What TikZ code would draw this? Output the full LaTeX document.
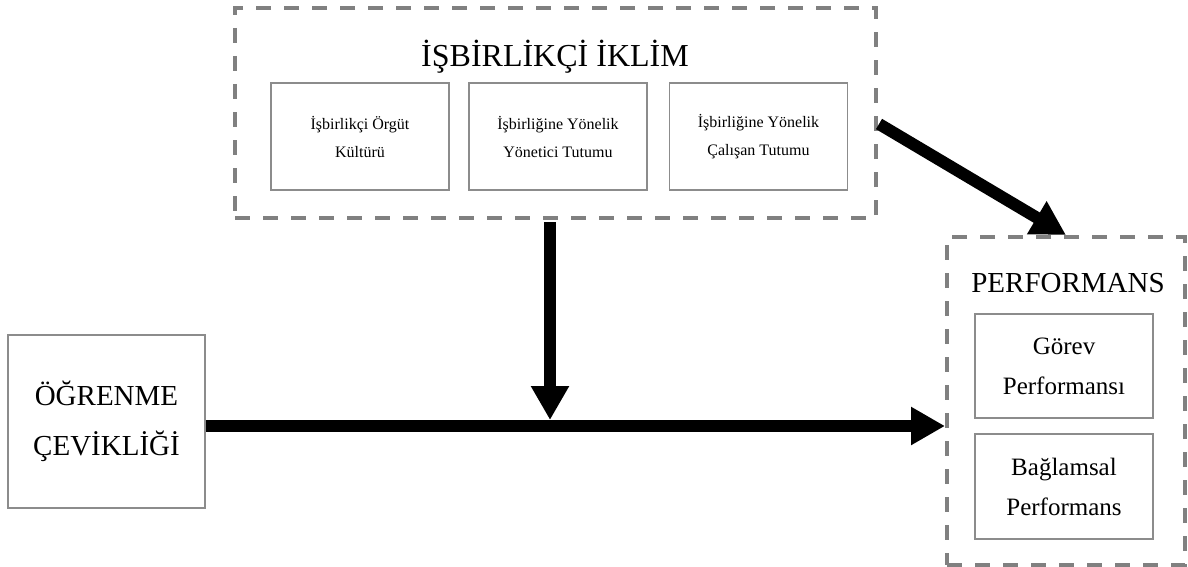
\documentclass[tikz,border=0pt]{standalone}
\usepackage{fontspec}
\setmainfont{Liberation Serif}
\usetikzlibrary{arrows.meta}
\definecolor{dashgray}{RGB}{128,128,128}
\definecolor{boxgray}{RGB}{140,140,140}
\tikzset{
  dashbox/.style={draw=dashgray, line width=2pt, dash pattern=on 7.5pt off 6.5pt, inner sep=0pt},
  subbox/.style={draw=boxgray, line width=0.8pt, inner sep=0pt, align=center},
  bigarrow/.style={line width=6pt, -{Triangle[length=17pt,width=18pt]}},
  plain/.style={inner sep=0pt, align=center},
}
\begin{document}
\begin{tikzpicture}[x=0.5pt,y=-0.5pt]
\useasboundingbox (0,0) rectangle (1188,567);
% top climate group
\node[dashbox, minimum width=320.5pt, minimum height=105pt] (top) at (555.5,113) {};
\node[plain, font=\fontsize{16}{19}\selectfont] (title) at (555,57) {İŞBİRLİKÇİ İKLİM};
\node[subbox, minimum width=89pt, minimum height=53.5pt, font=\fontsize{8}{14}\selectfont] (b1) at (360,136.5) {İşbirlikçi Örgüt\\Kültürü};
\node[subbox, minimum width=89pt, minimum height=53.5pt, font=\fontsize{8}{14}\selectfont] (b2) at (558,136.5) {İşbirliğine Yönelik\\Yönetici Tutumu};
\node[subbox, minimum width=89pt, minimum height=53.5pt, font=\fontsize{8}{14}\selectfont] (b3) at (758.5,136.5) {İşbirliğine Yönelik\\Çalışan Tutumu};
% learning agility
\node[subbox, minimum width=98.5pt, minimum height=86.5pt, font=\fontsize{14.5}{25}\selectfont] (learn) at (106.5,421.5) {ÖĞRENME\\ÇEVİKLİĞİ};
% performance group
\node[dashbox, minimum width=119pt, minimum height=164pt] (perf) at (1066,401) {};
\node[plain, font=\fontsize{14.5}{17}\selectfont] (ptitle) at (1068,283) {PERFORMANS};
\node[subbox, minimum width=89pt, minimum height=52pt, font=\fontsize{12.5}{20}\selectfont] (p1) at (1064,366) {Görev\\Performansı};
\node[subbox, minimum width=89pt, minimum height=52.5pt, font=\fontsize{12.5}{20}\selectfont] (p2) at (1064,486.5) {Bağlamsal\\Performans};
% connectors
\coordinate (hstart) at (learn.east |- 0,426);
\coordinate (hend) at (perf.west |- 0,426);
\coordinate (vstart) at (550,222);
\coordinate (vend) at (550,420);
\coordinate (dstart) at (879,124);
\draw[bigarrow] (hstart) -- (hend);
\draw[bigarrow] (vstart) -- (vend);
\draw[bigarrow] (dstart) -- (perf.north);
\end{tikzpicture}
\end{document}
